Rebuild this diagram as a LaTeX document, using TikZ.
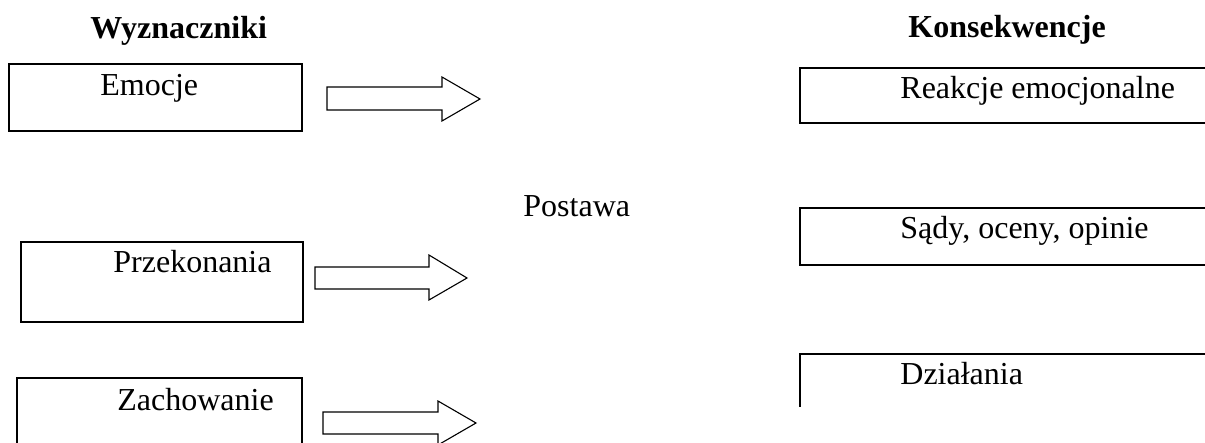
\documentclass[tikz,border=0pt]{standalone}
\usepackage{fontspec}
\setmainfont{Liberation Serif}
\begin{document}
\begin{tikzpicture}[x=0.5pt,y=-0.5pt,
  lbl/.style={anchor=base west,inner sep=0pt,font=\fontsize{16}{19}\selectfont},
  ttl/.style={lbl,font=\fontsize{16}{19}\selectfont\bfseries},
  boxline/.style={draw=black,line width=0.8pt},
  blockarrow/.style={draw=black,line width=0.55pt,fill=white,line join=miter}]
\useasboundingbox[fill=white] (0,0) rectangle (1205,443);
% titles
\node[ttl] (wyz) at (90,39) {Wyznaczniki};
\node[ttl] (kons) at (908,38) {Konsekwencje};
% left boxes
\draw[boxline] (9,64) rectangle (302,131);
\node[lbl] (emo) at (100,96) {Emocje};
\draw[boxline] (21,242) rectangle (303,322);
\node[lbl] (prz) at (113,273) {Przekonania};
\draw[boxline] (17,446) -- (17,378) -- (302,378) -- (302,446);
\node[lbl] (zach) at (117,410) {Zachowanie};
% block arrows
\draw[blockarrow] (327,87) -- (442,87) -- (442,77) -- (480,99) -- (442,121) -- (442,110) -- (327,110) -- cycle;
\draw[blockarrow] (315,267) -- (429,267) -- (429,255) -- (467,278) -- (429,300) -- (429,289) -- (315,289) -- cycle;
\draw[blockarrow] (323,412) -- (438,412) -- (438,401) -- (476,423) -- (438,445) -- (438,434) -- (323,434) -- cycle;
% centre
\node[lbl] (post) at (523,217) {Postawa};
% right boxes (cut at right edge)
\draw[boxline] (1210,68) -- (800,68) -- (800,123) -- (1210,123);
\node[lbl] (reak) at (900,99) {Reakcje emocjonalne};
\draw[boxline] (1210,208) -- (800,208) -- (800,265) -- (1210,265);
\node[lbl] (sady) at (900,239) {Sądy, oceny, opinie};
\draw[boxline] (1210,354) -- (800,354) -- (800,407);
\node[lbl] (dzial) at (900,385) {Działania};
\end{tikzpicture}
\end{document}
